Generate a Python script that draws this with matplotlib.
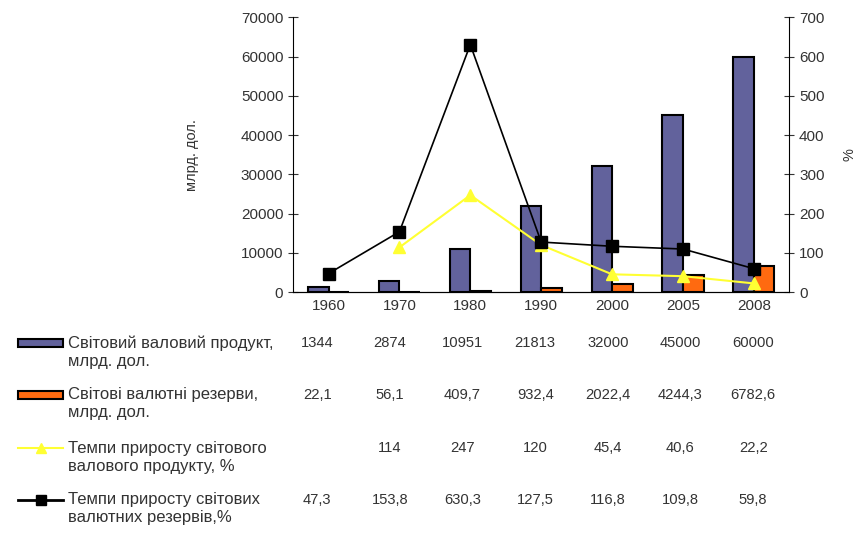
import matplotlib
matplotlib.use("Agg")
import matplotlib.pyplot as plt
import matplotlib.transforms as mtrans
from matplotlib.patches import Rectangle
from matplotlib.lines import Line2D
import numpy as np

plt.rcParams['font.family'] = ['Liberation Sans', 'DejaVu Sans']

years = ['1960', '1970', '1980', '1990', '2000', '2005', '2008']
gdp = [1344, 2874, 10951, 21813, 32000, 45000, 60000]
reserves = [22.1, 56.1, 409.7, 932.4, 2022.4, 4244.3, 6782.6]
gdp_growth = [None, 114, 247, 120, 45.4, 40.6, 22.2]
res_growth = [47.3, 153.8, 630.3, 127.5, 116.8, 109.8, 59.8]

gdp_txt = ['1344', '2874', '10951', '21813', '32000', '45000', '60000']
res_txt = ['22,1', '56,1', '409,7', '932,4', '2022,4', '4244,3', '6782,6']
gg_txt = ['', '114', '247', '120', '45,4', '40,6', '22,2']
rg_txt = ['47,3', '153,8', '630,3', '127,5', '116,8', '109,8', '59,8']

labels = [('Світовий валовий продукт,', 'млрд. дол.'),
          ('Світові валютні резерви,', 'млрд. дол.'),
          ('Темпи приросту світового', 'валового продукту, %'),
          ('Темпи приросту світових', 'валютних резервів,%')]

c_gdp = '#62629C'
c_res = '#FF6A10'
c_yel = '#FFFF33'
c_blk = '#000000'
tc = '#333333'

fig = plt.figure(figsize=(8.57, 5.39), dpi=100)
ax = fig.add_axes([0.342, 0.458, 0.579, 0.510])
x = np.arange(len(years))
w = 0.29
ax.bar(x - w / 2, gdp, width=w, color=c_gdp, edgecolor='black', linewidth=1.5)
ax.bar(x + w / 2, reserves, width=w, color=c_res, edgecolor='black', linewidth=1.5)
ax.set_xlim(-0.5, len(years) - 0.5)
ax.set_ylim(0, 70000)
ax.set_yticks(range(0, 70001, 10000))
ax.set_xticks(x)
ax.set_xticklabels(years)
ax.tick_params(axis='x', length=0, labelsize=11, pad=5, colors=tc)
ax.tick_params(axis='y', direction='inout', length=7, labelsize=11, colors=tc)
ax.set_ylabel('млрд. дол.', fontsize=10.5, color=tc, labelpad=30)
for s in ['top', 'right']:
    ax.spines[s].set_visible(False)

ax2 = ax.twinx()
ax2.set_ylim(0, 700)
ax2.set_yticks(range(0, 701, 100))
ax2.tick_params(axis='y', direction='inout', length=7, labelsize=11, colors=tc)
ax2.spines['top'].set_visible(False)
ax2.spines['left'].set_visible(False)
ax2.set_ylabel('%', fontsize=10.5, color=tc, labelpad=13)

gx = [xi for xi, v in zip(x, gdp_growth) if v is not None]
gy = [v for v in gdp_growth if v is not None]
ax2.plot(gx, gy, color=c_yel, linewidth=1.5, marker='^', markersize=8,
         markerfacecolor=c_yel, markeredgecolor=c_yel, zorder=3)
ax2.plot(x, res_growth, color=c_blk, linewidth=1.2, marker='s', markersize=8,
         markerfacecolor='black', markeredgecolor='black', zorder=4)

# data table
line1_y = [0.3636, 0.2672, 0.1688, 0.0724]
dy = 0.0334
texts = [gdp_txt, res_txt, gg_txt, rg_txt]
blend = mtrans.blended_transform_factory(ax.transData, fig.transFigure)
xpos = x * 1.025 - 0.16
for r in range(4):
    y0 = line1_y[r]
    fig.text(0.079, y0, labels[r][0], fontsize=12, color=tc, va='center', ha='left')
    fig.text(0.079, y0 - dy, labels[r][1], fontsize=12, color=tc, va='center', ha='left')
    for i in range(len(years)):
        ax.text(xpos[i], y0, texts[r][i], transform=blend,
                fontsize=10.6, color=tc, va='center', ha='center')

# legend keys
keyx0, keyx1 = 0.021, 0.074
hh = 0.016
for r, col in [(0, c_gdp), (1, c_res)]:
    fig.patches.append(Rectangle((keyx0, line1_y[r] - hh / 2), keyx1 - keyx0, hh,
                                 transform=fig.transFigure, facecolor=col,
                                 edgecolor='black', linewidth=1.5))
xm = (keyx0 + keyx1) / 2
fig.lines.append(Line2D([keyx0, xm, keyx1], [line1_y[2]] * 3, transform=fig.transFigure,
                        color=c_yel, linewidth=1.5, marker='^', markevery=[1],
                        markersize=7))
fig.lines.append(Line2D([keyx0, xm, keyx1], [line1_y[3]] * 3,
                        transform=fig.transFigure, color='black', linewidth=2,
                        marker='s', markevery=[1], markersize=7))

fig.savefig('out.png', dpi=100)
